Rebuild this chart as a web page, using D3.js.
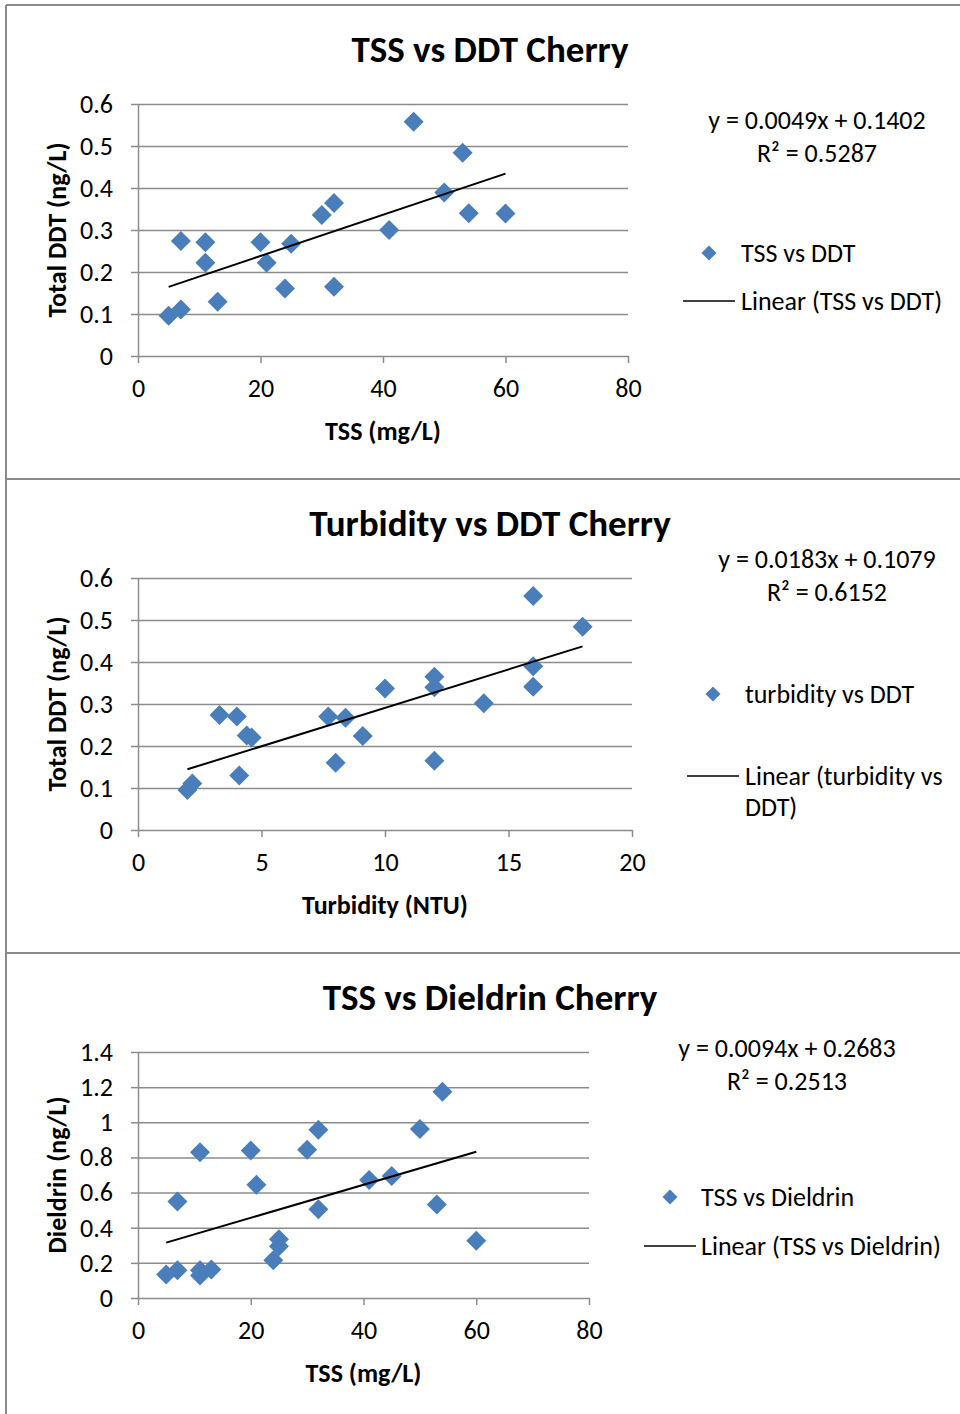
<!DOCTYPE html>
<html>
<head>
<meta charset="utf-8">
<script src="https://cdn.jsdelivr.net/npm/d3@7"></script>
<style>
  body { margin: 0; background: #fff; }
  svg { display: block; font-family: Carlito, Lato, "Open Sans", sans-serif; }
  .tick text { font-size: 26px; fill: #000; }
  .grid line { stroke: #8c8c8c; stroke-width: 1.5; }
  .grid path { display: none; }
</style>
</head>
<body>
<svg id="page" width="960" height="1414"></svg>
<script>
// chart 1 - TSS vs DDT
var tssA = [5, 7, 7, 11, 11, 13, 20, 21, 24, 25, 30, 32, 32, 41, 45, 50, 53, 54, 60];
var ddtA = [0.096, 0.111, 0.274, 0.271, 0.222, 0.129, 0.271, 0.222, 0.161, 0.267, 0.336, 0.364, 0.165, 0.300, 0.558, 0.389, 0.484, 0.340, 0.339];

// chart 2 - turbidity vs DDT
var turb = [2, 2.2, 3.3, 4, 4.1, 4.4, 4.6, 7.7, 8, 8.4, 9.1, 10, 12, 12, 12, 14, 16, 16, 16, 18];
var ddtB = [0.095, 0.111, 0.274, 0.270, 0.130, 0.225, 0.220, 0.270, 0.160, 0.267, 0.224, 0.337, 0.365, 0.340, 0.165, 0.302, 0.557, 0.390, 0.341, 0.484];

// chart 3 - TSS vs Dieldrin
var tssC = [5, 7, 7, 11, 11, 11, 13, 20, 21, 24, 25, 25, 30, 32, 32, 41, 45, 50, 53, 54, 60];
var dieldrin = [0.134, 0.158, 0.549, 0.829, 0.158, 0.128, 0.162, 0.840, 0.644, 0.215, 0.334, 0.295, 0.844, 0.958, 0.505, 0.672, 0.695, 0.962, 0.532, 1.174, 0.326];

// trendline coefficients [slope, intercept] and labels
var trendA = [0.0049, 0.1402], trendB = [0.0183, 0.1079], trendC = [0.0094, 0.2683];
var eqA = ["y = 0.0049x + 0.1402", "R² = 0.5287"];
var eqB = ["y = 0.0183x + 0.1079", "R² = 0.6152"];
var eqC = ["y = 0.0094x + 0.2683", "R² = 0.2513"];

// ticks
var tssTicks = [0, 20, 40, 60, 80];
var turbTicks = [0, 5, 10, 15, 20];
var ddtTicks = [0, 0.1, 0.2, 0.3, 0.4, 0.5, 0.6];
var dieldrinTicks = [0, 0.2, 0.4, 0.6, 0.8, 1, 1.2, 1.4];

var blue = "#4a7ebb", frame = "#8a8a8a";
var fmt = d3.format("~g");
var svg = d3.select("#page");

// panel frame
svg.append("line").attr("x1", 6).attr("y1", 5).attr("x2", 6).attr("y2", 1414).attr("stroke", frame).attr("stroke-width", 2);
[5, 479, 953].forEach(function(y) {
  svg.append("line").attr("x1", 6).attr("y1", y).attr("x2", 960).attr("y2", y).attr("stroke", frame).attr("stroke-width", 2);
});

function diamond(s) {
  return "M0," + (-s) + "L" + s + ",0L0," + s + "L" + (-s) + ",0Z";
}

function drawChart(o) {
  var width = o.right - o.left, height = o.bottom - o.top;
  var x = d3.scaleLinear().domain(d3.extent(o.xTicks)).range([0, width]);
  var y = d3.scaleLinear().domain(d3.extent(o.yTicks)).range([height, 0]);
  var g = svg.append("g").attr("transform", "translate(" + o.left + "," + o.top + ")");

  // gridlines
  g.append("g").attr("class", "grid")
    .call(d3.axisLeft(y).tickValues(o.yTicks.slice(1)).tickSize(-width).tickFormat(""));

  var ya = g.append("g").call(d3.axisLeft(y).tickValues(o.yTicks).tickFormat(fmt).tickSize(7).tickSizeOuter(0).tickPadding(18));
  var xa = g.append("g").attr("transform", "translate(0," + height + ")")
    .call(d3.axisBottom(x).tickValues(o.xTicks).tickFormat(fmt).tickSize(7).tickSizeOuter(0).tickPadding(16));
  [ya, xa].forEach(function(a) {
    a.attr("font-family", null).attr("font-size", null);
    a.selectAll("path, line").attr("stroke", "#8c8c8c").attr("stroke-width", 1.5);
  });

  // points
  g.selectAll(".pt").data(o.xs).enter().append("path")
    .attr("class", "pt")
    .attr("d", diamond(10))
    .attr("fill", blue)
    .attr("transform", function(d, i) { return "translate(" + x(d) + "," + y(o.ys[i]) + ")"; });

  // trendline over data range
  var ext = d3.extent(o.xs);
  var line = d3.line().x(function(d) { return x(d); }).y(function(d) { return y(o.trend[0] * d + o.trend[1]); });
  g.append("path").attr("d", line(ext)).attr("fill", "none").attr("stroke", "#000").attr("stroke-width", 2);

  // titles
  svg.append("text").attr("x", 490).attr("y", o.top - 42).attr("text-anchor", "middle")
    .attr("font-size", 37).attr("font-weight", "bold").text(o.title);
  svg.append("text").attr("x", (o.left + o.right) / 2).attr("y", o.bottom + 84).attr("text-anchor", "middle")
    .attr("font-size", 26).attr("font-weight", "bold").text(o.xLabel);
  svg.append("text").attr("transform", "translate(66," + ((o.top + o.bottom) / 2) + ") rotate(-90)")
    .attr("text-anchor", "middle").attr("font-size", 26).attr("font-weight", "bold").text(o.yLabel);

  // equation
  o.eq.forEach(function(t, i) {
    svg.append("text").attr("x", o.eqX).attr("y", o.eqY + i * 33).attr("text-anchor", "middle")
      .attr("font-size", 26).text(t);
  });

  // legend
  var lg = svg.append("g");
  lg.append("path").attr("d", diamond(7.5)).attr("fill", blue)
    .attr("transform", "translate(" + o.legX + "," + o.legY + ")");
  lg.append("text").attr("x", o.legX + o.legGap).attr("y", o.legY + 9).attr("font-size", 26).text(o.series);
  lg.append("line").attr("x1", o.legX - 26).attr("x2", o.legX + 26)
    .attr("y1", o.legY2).attr("y2", o.legY2).attr("stroke", "#000").attr("stroke-width", 1.5);
  o.trendLabel.forEach(function(t, i) {
    lg.append("text").attr("x", o.legX + o.legGap).attr("y", o.legY2 + 9 + i * 31).attr("font-size", 26).text(t);
  });
}

drawChart({
  left: 138, right: 628, top: 104, bottom: 356,
  xs: tssA, ys: ddtA, xTicks: tssTicks, yTicks: ddtTicks, trend: trendA,
  title: "TSS vs DDT Cherry", xLabel: "TSS (mg/L)", yLabel: "Total DDT (ng/L)",
  eq: eqA, eqX: 817, eqY: 129,
  series: "TSS vs DDT", trendLabel: ["Linear (TSS vs DDT)"],
  legX: 709, legY: 253, legY2: 301, legGap: 32
});

drawChart({
  left: 138, right: 632, top: 578, bottom: 830,
  xs: turb, ys: ddtB, xTicks: turbTicks, yTicks: ddtTicks, trend: trendB,
  title: "Turbidity vs DDT Cherry", xLabel: "Turbidity (NTU)", yLabel: "Total DDT (ng/L)",
  eq: eqB, eqX: 827, eqY: 568,
  series: "turbidity vs DDT", trendLabel: ["Linear (turbidity vs", "DDT)"],
  legX: 713, legY: 694, legY2: 776, legGap: 32
});

drawChart({
  left: 138, right: 589, top: 1052, bottom: 1298,
  xs: tssC, ys: dieldrin, xTicks: tssTicks, yTicks: dieldrinTicks, trend: trendC,
  title: "TSS vs Dieldrin Cherry", xLabel: "TSS (mg/L)", yLabel: "Dieldrin (ng/L)",
  eq: eqC, eqX: 787, eqY: 1057,
  series: "TSS vs Dieldrin", trendLabel: ["Linear (TSS vs Dieldrin)"],
  legX: 670, legY: 1197, legY2: 1246, legGap: 31
});
</script>
</body>
</html>
